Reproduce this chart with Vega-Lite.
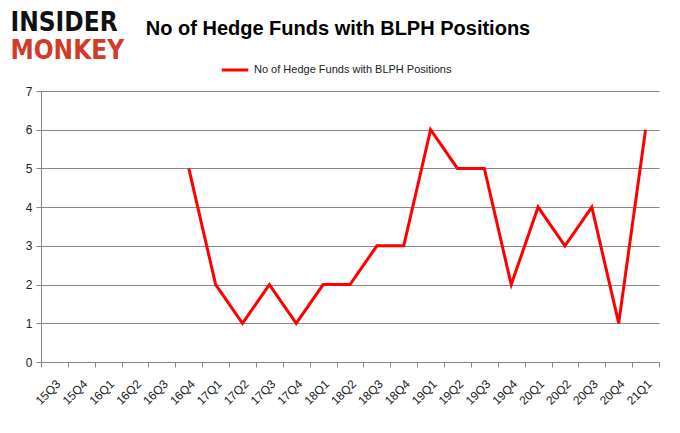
{
  "$schema": "https://vega.github.io/schema/vega-lite/v6.json",
  "width": 618,
  "height": 271,
  "autosize": {"type": "none"},
  "padding": {"left": 41, "top": 91, "right": 21, "bottom": 71},
  "background": "white",
  "config": {
    "view": {"stroke": null},
    "axis": {"labelFont": "Liberation Sans", "labelColor": "#222222", "labelFontSize": 12}
  },
  "encoding": {
    "x": {
      "field": "quarter", "type": "ordinal", "sort": null,
      "scale": {"type": "band", "paddingInner": 0, "paddingOuter": 0, "domain": ["15Q3","15Q4","16Q1","16Q2","16Q3","16Q4","17Q1","17Q2","17Q3","17Q4","18Q1","18Q2","18Q3","18Q4","19Q1","19Q2","19Q3","19Q4","20Q1","20Q2","20Q3","20Q4","21Q1"]},
      "axis": {"title": null, "labelAngle": -45, "tickBand": "extent", "domainColor": "#868686", "tickColor": "#868686", "tickSize": 5, "grid": false, "labelPadding": 11, "labelOverlap": false}
    },
    "y": {
      "field": "funds", "type": "quantitative",
      "scale": {"domain": [0, 7], "nice": false},
      "axis": {"title": null, "values": [0,1,2,3,4,5,6,7], "labelOverlap": false, "grid": true, "gridColor": "#868686", "domainColor": "#868686", "tickColor": "#868686", "tickSize": 5, "labelPadding": 4}
    }
  },
  "layer": [
    {
      "data": {"values": [
        {"quarter": "15Q3", "funds": null, "series": "No of Hedge Funds with BLPH Positions"},
        {"quarter": "15Q4", "funds": null, "series": "No of Hedge Funds with BLPH Positions"},
        {"quarter": "16Q1", "funds": null, "series": "No of Hedge Funds with BLPH Positions"},
        {"quarter": "16Q2", "funds": null, "series": "No of Hedge Funds with BLPH Positions"},
        {"quarter": "16Q3", "funds": null, "series": "No of Hedge Funds with BLPH Positions"},
        {"quarter": "16Q4", "funds": 5, "series": "No of Hedge Funds with BLPH Positions"},
        {"quarter": "17Q1", "funds": 2, "series": "No of Hedge Funds with BLPH Positions"},
        {"quarter": "17Q2", "funds": 1, "series": "No of Hedge Funds with BLPH Positions"},
        {"quarter": "17Q3", "funds": 2, "series": "No of Hedge Funds with BLPH Positions"},
        {"quarter": "17Q4", "funds": 1, "series": "No of Hedge Funds with BLPH Positions"},
        {"quarter": "18Q1", "funds": 2, "series": "No of Hedge Funds with BLPH Positions"},
        {"quarter": "18Q2", "funds": 2, "series": "No of Hedge Funds with BLPH Positions"},
        {"quarter": "18Q3", "funds": 3, "series": "No of Hedge Funds with BLPH Positions"},
        {"quarter": "18Q4", "funds": 3, "series": "No of Hedge Funds with BLPH Positions"},
        {"quarter": "19Q1", "funds": 6, "series": "No of Hedge Funds with BLPH Positions"},
        {"quarter": "19Q2", "funds": 5, "series": "No of Hedge Funds with BLPH Positions"},
        {"quarter": "19Q3", "funds": 5, "series": "No of Hedge Funds with BLPH Positions"},
        {"quarter": "19Q4", "funds": 2, "series": "No of Hedge Funds with BLPH Positions"},
        {"quarter": "20Q1", "funds": 4, "series": "No of Hedge Funds with BLPH Positions"},
        {"quarter": "20Q2", "funds": 3, "series": "No of Hedge Funds with BLPH Positions"},
        {"quarter": "20Q3", "funds": 4, "series": "No of Hedge Funds with BLPH Positions"},
        {"quarter": "20Q4", "funds": 1, "series": "No of Hedge Funds with BLPH Positions"},
        {"quarter": "21Q1", "funds": 6, "series": "No of Hedge Funds with BLPH Positions"}
      ]},
      "mark": {"type": "line", "strokeWidth": 3, "clip": false},
      "encoding": {
        "x": {"field": "quarter", "type": "ordinal", "sort": null, "bandPosition": 0.5},
        "color": {
          "field": "series", "type": "nominal",
          "scale": {"range": ["#ff0000"]},
          "legend": {"title": null, "orient": "none", "legendX": 179, "legendY": -36, "symbolType": "stroke", "symbolStrokeWidth": 3, "symbolSize": 700, "labelLimit": 400, "labelFont": "Liberation Sans", "labelFontSize": 11, "labelColor": "#222222"}
        }
      }
    },
    {
      "data": {"values": [{"quarter": "18Q2", "funds": 8.6, "label": "No of Hedge Funds with BLPH Positions"}]},
      "mark": {"type": "text", "align": "center", "baseline": "middle", "dx": -12, "font": "Liberation Sans", "fontWeight": "bold", "fontSize": 20, "color": "#000000", "clip": false},
      "encoding": {"text": {"field": "label"}}
    },
    {
      "data": {"values": [{"quarter": "15Q3", "funds": 8.76, "label": "INSIDER"}]},
      "mark": {"type": "text", "align": "left", "baseline": "middle", "dx": -44, "font": "DejaVu Sans Condensed", "fontWeight": "bold", "fontSize": 26, "color": "#111111", "clip": false},
      "encoding": {"text": {"field": "label"}}
    },
    {
      "data": {"values": [{"quarter": "15Q3", "funds": 8.04, "label": "MONKEY"}]},
      "mark": {"type": "text", "align": "left", "baseline": "middle", "dx": -44, "font": "DejaVu Sans Condensed", "fontWeight": "bold", "fontSize": 26, "color": "#d13b2a", "clip": false},
      "encoding": {"text": {"field": "label"}}
    }
  ]
}
